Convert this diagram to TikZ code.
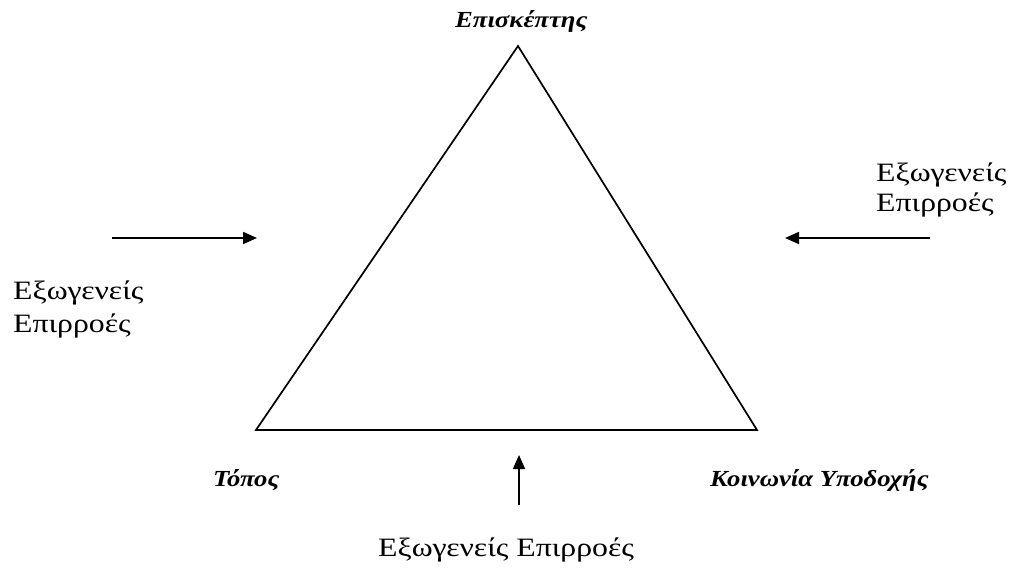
\documentclass[tikz,border=0pt]{standalone}
\usepackage{fontspec}
\setmainfont{Liberation Serif}
\newfontfamily\cornerfont[FakeStretch=1.16]{Liberation Serif}
\newfontfamily\outerfont[FakeStretch=1.2]{Liberation Serif}
\usetikzlibrary{arrows.meta}
\begin{document}
\begin{tikzpicture}[x=1pt,y=-1pt,
  edge/.style={line width=1.7pt},
  influence/.style={line width=1.7pt,-{Triangle[length=14pt,width=12pt]}},
  corner/.style={font=\fontsize{23}{27}\cornerfont\bfseries\itshape,anchor=base west,inner sep=0pt},
  outside/.style={font=\fontsize{26.5}{30}\outerfont,anchor=base west,inner sep=0pt}]
  \useasboundingbox (0,0) rectangle (1010,572);
  % triangle of the three actors
  \coordinate (apex) at (518,46);
  \coordinate (bl) at (256,430);
  \coordinate (br) at (757,430);
  \draw[edge,line join=miter] (apex) -- (br) -- (bl) -- cycle;
  % corner labels
  \node[corner] (visitor) at (455,28) {Επισκέπτης};
  \node[corner] (place) at (213,486) {Τόπος};
  \node[corner] (host) at (710,486) {Κοινωνία Υποδοχής};
  % external influences
  \node[outside] (leftinfa) at (13,299) {Εξωγενείς};
  \node[outside] (leftinfb) at (13,332) {Επιρροές};
  \node[outside] (rightinfa) at (876,182) {Εξωγενείς};
  \node[outside] (rightinfb) at (876,212) {Επιρροές};
  \node[outside] (bottominf) at (378,556) {Εξωγενείς Επιρροές};
  \coordinate (la) at (112,238);
  \coordinate (lb) at (257,238);
  \coordinate (ra) at (930,238);
  \coordinate (rb) at (785,238);
  \coordinate (ba) at (519,505);
  \coordinate (bb) at (519,455);
  \draw[influence] (la) -- (lb);
  \draw[influence] (ra) -- (rb);
  \draw[influence] (ba) -- (bb);
\end{tikzpicture}
\end{document}
